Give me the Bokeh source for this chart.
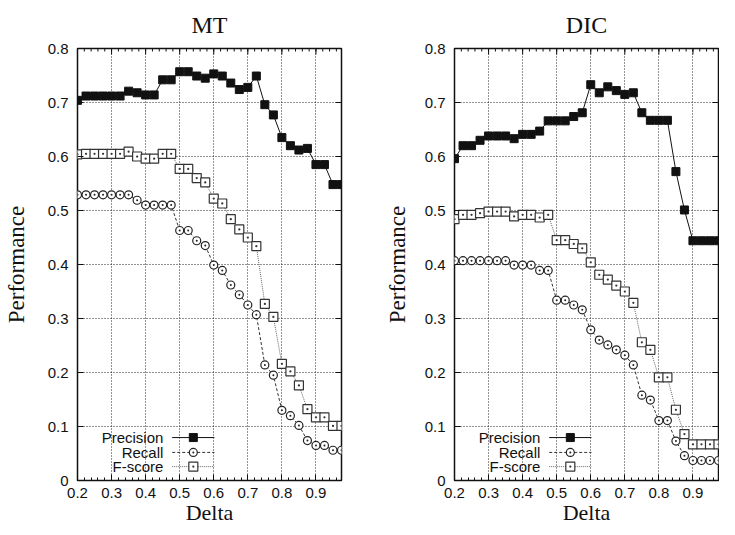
import numpy as np
from bokeh.plotting import figure
from bokeh.models import FixedTicker, Range1d
from bokeh.layouts import row
from bokeh.embed import file_html
from bokeh.resources import INLINE
from bokeh.core.properties import value

# ---------------- data ----------------
delta = [0.2, 0.225, 0.25, 0.275, 0.3, 0.325, 0.35, 0.375, 0.4, 0.425, 0.45, 0.475,
         0.5, 0.525, 0.55, 0.575, 0.6, 0.625, 0.65, 0.675, 0.7, 0.725, 0.75, 0.775,
         0.8, 0.825, 0.85, 0.875, 0.9, 0.925, 0.95, 0.975]

mt_precision = [0.704, 0.712, 0.712, 0.712, 0.712, 0.712, 0.721, 0.718, 0.714, 0.714, 0.742, 0.742,
                0.757, 0.757, 0.749, 0.745, 0.753, 0.749, 0.736, 0.724, 0.728, 0.749, 0.696, 0.677,
                0.635, 0.620, 0.612, 0.615, 0.585, 0.585, 0.548, 0.548]
mt_recall = [0.529, 0.529, 0.529, 0.529, 0.529, 0.529, 0.529, 0.519, 0.510, 0.510, 0.510, 0.510,
             0.463, 0.463, 0.444, 0.435, 0.399, 0.389, 0.362, 0.344, 0.325, 0.307, 0.214, 0.195,
             0.130, 0.120, 0.102, 0.074, 0.065, 0.065, 0.056, 0.056]
mt_fscore = [0.604, 0.605, 0.605, 0.605, 0.605, 0.605, 0.609, 0.600, 0.596, 0.596, 0.605, 0.605,
             0.577, 0.577, 0.560, 0.552, 0.522, 0.513, 0.484, 0.465, 0.450, 0.434, 0.327, 0.303,
             0.216, 0.202, 0.176, 0.132, 0.117, 0.117, 0.101, 0.101]

dic_precision = [0.596, 0.620, 0.620, 0.630, 0.638, 0.638, 0.638, 0.633, 0.641, 0.641, 0.647, 0.666,
                 0.666, 0.666, 0.674, 0.681, 0.733, 0.718, 0.729, 0.722, 0.715, 0.718, 0.681, 0.667,
                 0.667, 0.667, 0.572, 0.501, 0.444, 0.444, 0.444, 0.444]
dic_recall = [0.407, 0.407, 0.407, 0.407, 0.407, 0.407, 0.407, 0.399, 0.399, 0.399, 0.389, 0.389,
              0.334, 0.334, 0.325, 0.316, 0.279, 0.260, 0.251, 0.242, 0.232, 0.214, 0.158, 0.149,
              0.111, 0.111, 0.073, 0.046, 0.037, 0.037, 0.037, 0.037]
dic_fscore = [0.484, 0.492, 0.492, 0.495, 0.498, 0.498, 0.498, 0.489, 0.492, 0.492, 0.487, 0.492,
              0.445, 0.445, 0.438, 0.430, 0.404, 0.381, 0.372, 0.361, 0.350, 0.329, 0.256, 0.242,
              0.191, 0.191, 0.131, 0.086, 0.067, 0.067, 0.067, 0.067]

x_ticks = [0.2, 0.3, 0.4, 0.5, 0.6, 0.7, 0.8, 0.9]
y_ticks = [0.0, 0.1, 0.2, 0.3, 0.4, 0.5, 0.6, 0.7, 0.8]
series_names = ["Precision", "Recall", "F-score"]
x_title = "Delta"
y_title = "Performance"

# ---------------- style / layout ----------------
SERIF = "Liberation Serif"
SANS = "Liberation Sans"
FIG_H = 527
X_MIN, X_MAX = 0.2, 0.975
Y_MIN, Y_MAX = 0.0, 0.8
LEG_Y = [0.0795, 0.052, 0.0257]
LEG_TEXT_X = 0.452
LEG_LINE_X = (0.478, 0.602)
LEG_MARK_X = 0.540
x_minor = [float(v) for v in np.round(np.arange(0.2, 0.98, 0.02), 2)]


def style_axis(ax, ticker):
    ax.ticker = ticker
    ax.axis_line_color = None
    ax.major_tick_in = 6
    ax.major_tick_out = 0
    ax.minor_tick_in = 3
    ax.minor_tick_out = 0
    ax.major_tick_line_color = "#111111"
    ax.minor_tick_line_color = "#111111"
    ax.major_label_text_font = SANS
    ax.major_label_text_font_size = "15px"
    ax.major_label_text_color = "#111111"
    ax.axis_label_text_font = SERIF
    ax.axis_label_text_font_size = "23px"
    ax.axis_label_text_font_style = "normal"
    ax.axis_label_text_color = "#111111"


def make_plot(title, prec, rec, fsc, width, mbl, mbr, ylab_standoff):
    p = figure(width=width, height=FIG_H, x_range=Range1d(X_MIN, X_MAX), y_range=Range1d(Y_MIN, Y_MAX),
               output_backend="svg", toolbar_location=None, title=title,
               min_border_left=mbl, min_border_right=mbr, min_border_top=44, min_border_bottom=38)
    p.title.align = "center"
    p.title.vertical_align = "middle"
    p.title.text_font = SERIF
    p.title.text_font_size = "24px"
    p.title.text_font_style = "normal"
    p.title.text_color = "#111111"
    p.title.standoff = 20
    p.outline_line_color = "#111111"
    p.outline_line_width = 1.5
    p.background_fill_color = "white"
    p.border_fill_color = "white"

    xt = FixedTicker(ticks=x_ticks, minor_ticks=x_minor)
    yt = FixedTicker(ticks=y_ticks, minor_ticks=[])

    style_axis(p.xaxis[0], xt)
    style_axis(p.yaxis[0], yt)
    p.xaxis.major_label_standoff = 7
    p.yaxis.major_label_standoff = 9
    p.yaxis.major_label_overrides = {0: "0"}
    p.xaxis.axis_label = x_title
    p.xaxis.axis_label_text_font_size = "22px"
    p.yaxis.axis_label = y_title
    p.xaxis.axis_label_standoff = -1
    p.yaxis.axis_label_standoff = ylab_standoff

    p.xgrid.ticker = xt
    p.ygrid.ticker = yt
    for g in (p.xgrid[0], p.ygrid[0]):
        g.grid_line_color = "#111111"
        g.grid_line_dash = "1 2"
        g.grid_line_width = 1
        g.grid_line_alpha = 0.9

    # inward ticks on the top and right borders (mirrors of the axis ticks, clipped by the frame)
    p.scatter(x_ticks, [Y_MAX] * len(x_ticks), marker="dash", angle=np.pi / 2, size=12,
              line_color="#111111", line_width=1)
    p.scatter(x_minor, [Y_MAX] * len(x_minor), marker="dash", angle=np.pi / 2, size=6,
              line_color="#111111", line_width=1)
    p.scatter([X_MAX] * len(y_ticks), y_ticks, marker="dash", size=12,
              line_color="#111111", line_width=1)

    # series
    p.line(delta, fsc, line_color="#666666", line_dash="1 1", line_width=1)
    p.line(delta, rec, line_color="#333333", line_dash="3 2", line_width=1)
    p.line(delta, prec, line_color="#111111", line_width=1)
    p.scatter(delta, fsc, marker="square_dot", size=9, line_color="#333333", fill_color="white", line_width=1.2)
    p.scatter(delta, rec, marker="circle_dot", size=8, line_color="#222222", fill_color="white", line_width=1.2)
    p.scatter(delta, prec, marker="square", size=8, line_color="#111111", fill_color="#111111")

    # legend (gnuplot style: text right-aligned, sample to the right)
    p.text(x=[LEG_TEXT_X] * 3, y=LEG_Y, text=series_names, text_align="right", text_baseline="middle",
           text_font=value(SANS), text_font_size="15px", text_color="#111111")
    p.line(list(LEG_LINE_X), [LEG_Y[0]] * 2, line_color="#111111", line_width=1)
    p.line(list(LEG_LINE_X), [LEG_Y[1]] * 2, line_color="#333333", line_dash="3 2", line_width=1)
    p.line(list(LEG_LINE_X), [LEG_Y[2]] * 2, line_color="#666666", line_dash="1 1", line_width=1)
    p.scatter([LEG_MARK_X], [LEG_Y[0]], marker="square", size=8, line_color="#111111", fill_color="#111111")
    p.scatter([LEG_MARK_X], [LEG_Y[1]], marker="circle_dot", size=8, line_color="#222222", fill_color="white", line_width=1.2)
    p.scatter([LEG_MARK_X], [LEG_Y[2]], marker="square_dot", size=9, line_color="#333333", fill_color="white", line_width=1.2)
    return p


p1 = make_plot("MT", mt_precision, mt_recall, mt_fscore, width=381, mbl=72, mbr=40, ylab_standoff=16)
p2 = make_plot("DIC", dic_precision, dic_recall, dic_fscore, width=338, mbl=68, mbr=1, ylab_standoff=12)
layout = row(p1, p2)

open("out.html", "w").write(file_html(layout, INLINE))
